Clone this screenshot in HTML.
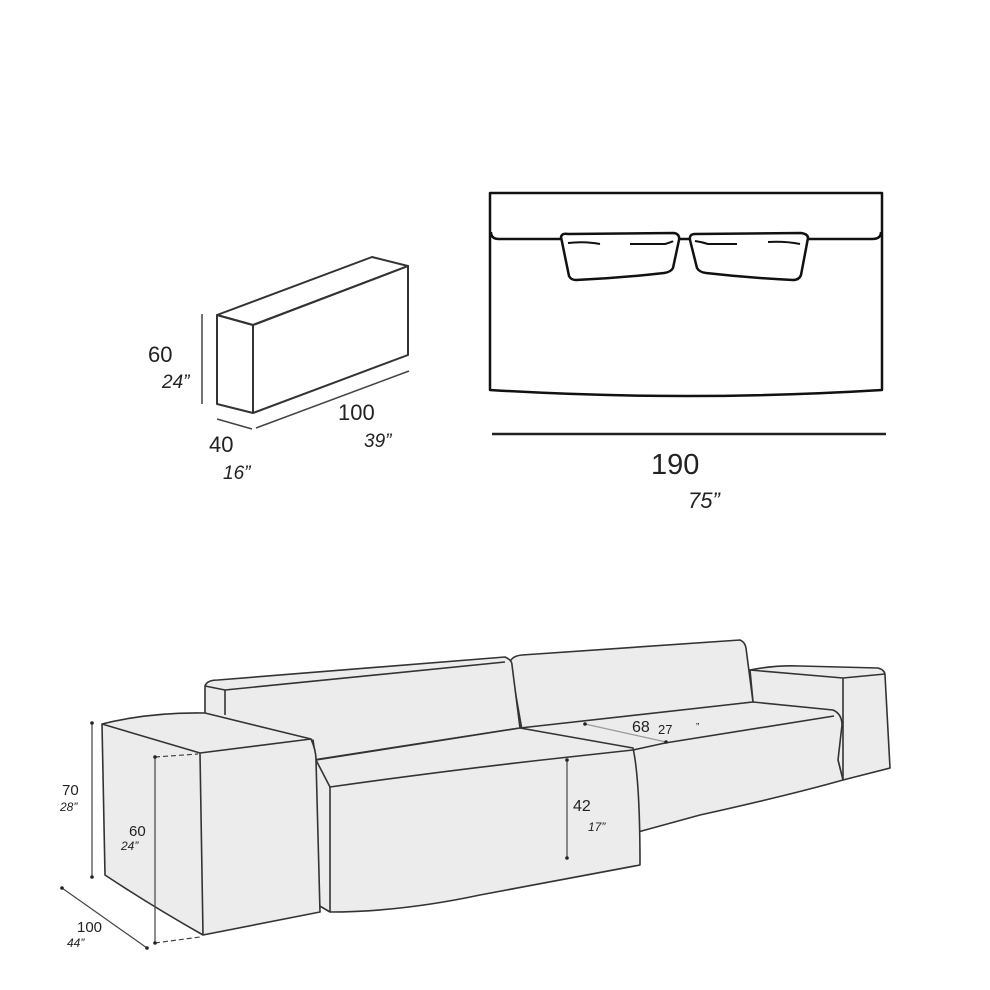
<!DOCTYPE html>
<html><head><meta charset="utf-8"><style>
html,body{margin:0;padding:0;background:#fff;width:990px;height:990px;overflow:hidden}
svg{display:block}
text{font-family:"Liberation Sans",sans-serif;fill:#222}
</style></head><body>
<svg width="990" height="990" viewBox="0 0 990 990" xmlns="http://www.w3.org/2000/svg">
<!-- small box -->
<g fill="none" stroke="#333" stroke-width="2" stroke-linejoin="round">
<polygon points="217,315 253,325 253,413 217,404"/>
<polygon points="253,325 408,266 408,355 253,413"/>
<polygon points="217,315 372,257 408,266 253,325"/>
</g>
<g stroke="#444" stroke-width="1.5">
<line x1="202" y1="314" x2="202" y2="404"/>
<line x1="217" y1="419" x2="252" y2="429"/>
<line x1="256" y1="428" x2="409" y2="371"/>
</g>
<text x="148" y="362" font-size="22">60</text>
<text x="162" y="388" font-size="19" font-style="italic">24”</text>
<text x="209" y="452" font-size="22">40</text>
<text x="223" y="479" font-size="19" font-style="italic">16”</text>
<text x="338" y="420" font-size="22">100</text>
<text x="364" y="447" font-size="19" font-style="italic">39”</text>

<!-- top view -->
<g fill="none" stroke="#111" stroke-width="2.5" stroke-linejoin="round">
<path d="M490,193 L882,193 L882,390 Q686,402 490,390 Z"/>
<path d="M491,232 Q491,239 499,239 L561,239 M690,239 L679,239 M808,239 L872,239 Q881,239 881,232"/>
<path d="M561,237 Q562,233 568,234 L674,233 Q680,234 679,240 L673,268 Q671,272 664,273 Q620,278 576,280 Q571,280 569,276 Z"/>
<path d="M690,240 Q689,234 695,234 L801,233 Q808,234 808,238 L801,275 Q799,280 793,280 Q750,278 706,273 Q699,272 697,268 Z"/>
<path d="M568,243 Q585,241 600,244 M630,244 L665,244 Q672,242 673,241 M695,241 Q702,242 708,244 L737,244 M768,242 Q785,241 800,244" stroke-width="2"/>
</g>
<line x1="492" y1="434" x2="886" y2="434" stroke="#222" stroke-width="2.5"/>
<text x="651" y="474" font-size="29">190</text>
<text x="688" y="508" font-size="22" font-style="italic">75”</text>

<!-- sofa -->
<g fill="#ececec" stroke="#333" stroke-width="1.6" stroke-linejoin="round">
<!-- right arm -->
<path d="M750,670 Q775,665 800,666 L878,668 Q885,670 885,675 L890,768 L843,780 L838,760 L753,702 Z"/>
<path d="M750,670 L843,678 L885,674 M843,678 L843,780" fill="none"/>
<!-- right backrest -->
<path d="M510,662 Q512,656 522,655 L740,640 Q745,642 746,648 L753,702 L522,730 Z"/>
<!-- left backrest -->
<path d="M205,686 Q207,680 218,680 L505,657 Q512,660 512,665 L520,728 L313,760 L205,760 Z"/>
<path d="M205,686 L225,690 L505,662 M225,690 L225,715" fill="none"/>
<!-- right seat -->
<path d="M520,728 L753,702 L833,710 Q842,714 842,725 L838,760 L843,780 Q790,795 700,815 L638,832 L633,750 Z"/>
<path d="M633,750 L665,743 L834,716" fill="none"/>
<!-- left seat -->
<path d="M313,740 L316,760 L520,728 L633,748 Q640,780 640,865 Q560,880 480,895 Q400,912 330,912 L318,905 Z"/>
<path d="M316,760 L330,787 Q450,770 560,758 L633,750" fill="none"/>
<path d="M330,787 L330,912" fill="none"/>
<!-- left arm -->
<path d="M102,724 Q150,712 205,713 L311,739 Q316,750 316,760 L320,912 L203,935 Q150,905 105,875 Z"/>
<path d="M102,724 L200,753 L311,739 M200,753 L203,935" fill="none"/>
</g>
<!-- dims -->
<g stroke="#444" stroke-width="1.2" fill="none">
<line x1="92" y1="723" x2="92" y2="877"/>
<line x1="62" y1="888" x2="147" y2="948"/>
<line x1="155" y1="757" x2="155" y2="943"/>
<line x1="155" y1="757" x2="198" y2="754" stroke-dasharray="5,3"/>
<line x1="155" y1="943" x2="200" y2="937" stroke-dasharray="5,3"/>
<line x1="567" y1="760" x2="567" y2="858"/>
<line x1="585" y1="724" x2="666" y2="742" stroke="#999"/>
</g>
<g fill="#222">
<circle cx="92" cy="723" r="1.8"/><circle cx="92" cy="877" r="1.8"/>
<circle cx="62" cy="888" r="1.8"/><circle cx="147" cy="948" r="1.8"/>
<circle cx="155" cy="757" r="1.8"/><circle cx="155" cy="943" r="1.8"/>
<circle cx="567" cy="760" r="1.8"/><circle cx="567" cy="858" r="1.8"/>
<circle cx="585" cy="724" r="1.8"/><circle cx="666" cy="742" r="1.8"/>
</g>
<text x="62" y="795" font-size="15">70</text>
<text x="60" y="811" font-size="12" font-style="italic">28”</text>
<text x="129" y="836" font-size="15">60</text>
<text x="121" y="850" font-size="12" font-style="italic">24”</text>
<text x="77" y="932" font-size="15">100</text>
<text x="67" y="947" font-size="12" font-style="italic">44”</text>
<text x="573" y="811" font-size="16">42</text>
<text x="588" y="831" font-size="12" font-style="italic">17”</text>
<text x="632" y="732" font-size="16">68</text>
<text x="658" y="734" font-size="13">27</text>
<text x="696" y="730" font-size="10">”</text>
</svg>
</body></html>
